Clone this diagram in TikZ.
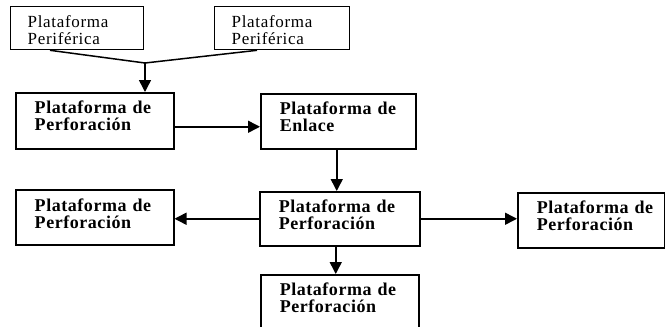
\documentclass[tikz,border=0pt]{standalone}
\usepackage{fontspec}
\setmainfont{Liberation Serif}
\usetikzlibrary{arrows.meta}
\newfontfamily\topfont[LetterSpace=4]{Liberation Serif}
\newfontfamily\boldfont[LetterSpace=3]{Liberation Serif Bold}
\tikzset{
  boxbase/.style={draw=black, line width=1.5pt, inner sep=0pt, anchor=north west, align=left},
  topbox/.style={boxbase, line width=1.3pt, font=\topfont\fontsize{17pt}{17pt}\selectfont,
     execute at begin node={\leftskip=17pt}},
  mainbox/.style={boxbase, font=\boldfont\fontsize{18pt}{16.5pt}\selectfont,
     execute at begin node={\leftskip=19pt}},
  arr/.style={line width=1.5pt, -{Triangle[length=12pt,width=12pt]}},
  conn/.style={line width=1.5pt}
}
\begin{document}
\begin{tikzpicture}[x=1pt,y=-1pt]
\useasboundingbox (0,0) rectangle (665,327);
\clip (0,0) rectangle (665,327);
\fill[white] (0,0) rectangle (665,327);
% top peripheral platforms
\node[topbox, text width=133pt, text height=21pt, text depth=22pt] (pA) at (10,6) {Plataforma\\Periférica};
\node[topbox, text width=135pt, text height=21pt, text depth=22pt] (pB) at (214,6) {Plataforma\\Periférica};
% second row
\node[mainbox, text width=158pt, text height=21pt, text depth=35pt] (pC) at (15,92) {Plataforma de\\Perforación};
\node[mainbox, text width=155pt, text height=21pt, text depth=34pt] (pD) at (260,93) {Plataforma de\\Enlace};
% third row
\node[mainbox, text width=160pt, text height=21pt, text depth=33pt] (pE) at (259,191) {Plataforma de\\Perforación};
\node[mainbox, text width=158pt, text height=22pt, text depth=33pt] (pF) at (15,189) {Plataforma de\\Perforación};
\node[mainbox, text width=147pt, text height=21pt, text depth=34pt] (pG) at (517,192) {Plataforma de\\Perforación};
% bottom
\node[mainbox, text width=158pt, text height=21pt, text depth=50pt] (pH) at (260,274) {Plataforma de\\Perforación};
% connectors
\coordinate (j) at (145,63);
\draw[conn] ([xshift=40pt]pA.south west) -- (j);
\draw[conn] ([xshift=43pt]pB.south west) -- (j);
\draw[arr] (j) -- (j |- pC.north);
\draw[arr] ([yshift=-6pt]pC.east) -- ([yshift=-6pt]pC.east -| pD.west);
\draw[arr] ([xshift=-1.5pt]pD.south) -- ([xshift=-1.5pt]pD.south |- pE.north);
\draw[arr] (pE.west) -- (pE.west -| pF.east);
\draw[arr] (pE.east) -- (pE.east -| pG.west);
\draw[arr] ([xshift=-4pt]pE.south) -- ([xshift=-4pt]pE.south |- pH.north);
\end{tikzpicture}
\end{document}
